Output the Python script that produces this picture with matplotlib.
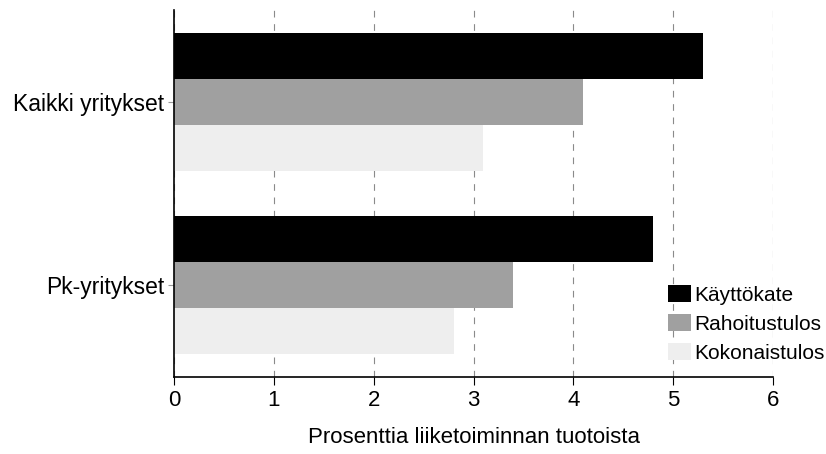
import matplotlib
matplotlib.use('Agg')
import matplotlib.pyplot as plt
import numpy as np

categories = ['Pk-yritykset', 'Kaikki yritykset']
series = ['Käyttökate', 'Rahoitustulos', 'Kokonaistulos']
kayttokate = [4.8, 5.3]
rahoitustulos = [3.4, 4.1]
kokonaistulos = [2.8, 3.1]

colors = ['#000000', '#a0a0a0', '#eeeeee']

plt.rcParams['font.family'] = ['Liberation Sans', 'DejaVu Sans']

fig = plt.figure(figsize=(8.26, 4.54), dpi=100)
ax = fig.add_axes([174 / 826, 77 / 454, 599 / 826, 367 / 454])

y = np.arange(len(categories))
h = 0.25
for vals, off, col, lab in zip([kayttokate, rahoitustulos, kokonaistulos],
                               [h, 0, -h], colors, series):
    ax.barh(y + off, vals, height=h, color=col, label=lab, zorder=2)

ax.set_xlim(0, 6)
ax.set_ylim(-0.5, 1.5)
ax.set_yticks(y)
ax.set_yticklabels(categories, fontsize=16.5)
ax.set_xticks(range(7))
ax.tick_params(axis='x', labelsize=16, direction='out', length=6, pad=3)
ax.tick_params(axis='y', length=4, color='#999999', pad=3)
ax.xaxis.grid(True, linestyle=(0, (6, 6)), color='#8a8a8a', linewidth=0.8, zorder=0)
ax.set_axisbelow(True)
for s in ['top', 'right']:
    ax.spines[s].set_visible(False)
ax.spines['left'].set_linewidth(1.2)
ax.spines['bottom'].set_linewidth(1.2)
ax.set_xlabel('Prosenttia liiketoiminnan tuotoista', fontsize=16, labelpad=12)

fig.legend(loc='upper left', bbox_to_anchor=(660 / 826, 1 - 277 / 454),
           frameon=False, fontsize=15, handlelength=1.1, handleheight=0.85,
           handletextpad=0.15, labelspacing=0.45, borderaxespad=0)

fig.savefig('out.png', dpi=100)
